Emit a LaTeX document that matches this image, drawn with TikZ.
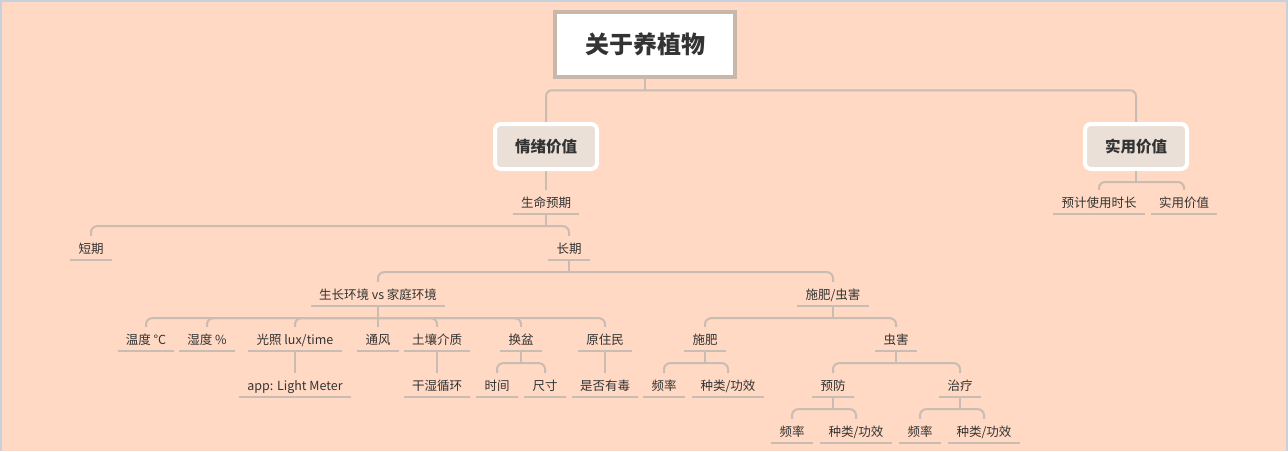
\documentclass[tikz,border=0pt]{standalone}
\usepackage{fontspec}
\setmainfont{Noto Sans CJK SC}
\usepackage{tikz}
\usetikzlibrary{backgrounds}

\definecolor{peach}{HTML}{FFD9C3}
\definecolor{frameline}{HTML}{C7D1DD}
\definecolor{branch}{HTML}{C9BCB2}
\definecolor{rootline}{HTML}{C8B8AC}
\definecolor{mainfill}{HTML}{EAE0D8}
\definecolor{ink}{HTML}{333333}

\begin{document}
\begin{tikzpicture}[x=1pt, y=-1pt,
    lin/.style={branch, line width=2pt},
    fork/.style={lin, rounded corners=6pt},
    rootbox/.style={draw=rootline, line width=4.5pt, fill=white, minimum width=180pt, minimum height=65pt,
        font=\fontsize{24}{28}\selectfont\bfseries, text=ink},
    mainbox/.style={draw=white, line width=4pt, fill=mainfill, rounded corners=6pt, minimum width=102pt,
        minimum height=45pt, font=\fontsize{15.5}{18}\selectfont\bfseries, text=ink},
    leaf/.style={inner xsep=8pt, inner ysep=6pt, text height=11pt, text depth=1pt,
        font=\fontsize{12.5}{14}\selectfont, text=ink}]
    \useasboundingbox (0,0) rectangle (1288,451);
    % main topics
    \node [rootbox] (root) at (645,44.5)  {关于养植物};
    \node [mainbox] (emo)  at (546,146.5) {情绪价值};
    \node [mainbox] (use)  at (1136,146.5) {实用价值};
    % subtopics
    \node [leaf] (life)   at (546,202) {生命预期};
    \node [leaf] (short)  at (91,248)  {短期};
    \node [leaf] (long)   at (569,248) {长期};
    \node [leaf] (env)    at (378,294) {生长环境 vs 家庭环境};
    \node [leaf] (care)   at (833,294) {施肥/虫害};
    \node [leaf] (temp)   at (146,339) {温度 °C};
    \node [leaf] (humid)  at (207,339) {湿度 \%};
    \node [leaf] (light)  at (295,339) {光照 lux/time};
    \node [leaf] (air)    at (378,339) {通风};
    \node [leaf] (soil)   at (437,339) {土壤介质};
    \node [leaf] (pot)    at (521,339) {换盆};
    \node [leaf] (native) at (605,339) {原住民};
    \node [leaf] (feed)   at (705,339) {施肥};
    \node [leaf] (pest)   at (896,339) {虫害};
    \node [leaf] (meter)  at (295,385) {app: Light Meter};
    \node [leaf] (cycle)  at (437,385) {干湿循环};
    \node [leaf] (time)   at (497,385) {时间};
    \node [leaf] (size)   at (545,385) {尺寸};
    \node [leaf] (toxic)  at (605,385) {是否有毒};
    \node [leaf] (ffreq)  at (664,385) {频率};
    \node [leaf] (fkind)  at (728,385) {种类/功效};
    \node [leaf] (prev)   at (833,385) {预防};
    \node [leaf] (cure)   at (960,385) {治疗};
    \node [leaf] (pfreq)  at (792,431) {频率};
    \node [leaf] (pkind)  at (856,431) {种类/功效};
    \node [leaf] (cfreq)  at (920,431) {频率};
    \node [leaf] (ckind)  at (984,431) {种类/功效};
    \node [leaf] (span)   at (1099,202) {预计使用时长};
    \node [leaf] (worth)  at (1184,202) {实用价值};
    \begin{scope}[on background layer]
        \fill[peach] (0,0) rectangle (1288,451);
        \draw[frameline, line width=2pt] (1,451) -- (1,1) -- (1287,1) -- (1287,451);
        % underlines
        \foreach \n in {life,short,long,env,care,temp,humid,light,air,soil,pot,native,feed,pest,
                meter,cycle,time,size,toxic,ffreq,fkind,prev,cure,pfreq,pkind,cfreq,ckind,span,worth}
            \draw[lin] (\n.south west) -- (\n.south east);
        % connectors
        \foreach \p/\c in {root/emo, root/use, use/span, use/worth} {
            \draw[lin] (\p.south) -- ++(0,11);
            \draw[fork] (\p.south) ++(0,11) -| (\c.north);
        }
        \foreach \p/\c in {life/short, life/long, long/env, long/care, env/temp, env/humid, env/light,
                env/soil, env/pot, env/native, care/feed, care/pest, pot/time, pot/size,
                feed/ffreq, feed/fkind, pest/prev, pest/cure, prev/pfreq, prev/pkind, cure/cfreq, cure/ckind} {
            \draw[lin] (\p.south) -- ++(0,12);
            \draw[fork] (\p.south) ++(0,12) -| (\c.north);
        }
        \foreach \p/\c in {emo/life, env/air, light/meter, soil/cycle, native/toxic}
            \draw[lin] (\p.south) -- (\c.north);
    \end{scope}
\end{tikzpicture}
\end{document}
